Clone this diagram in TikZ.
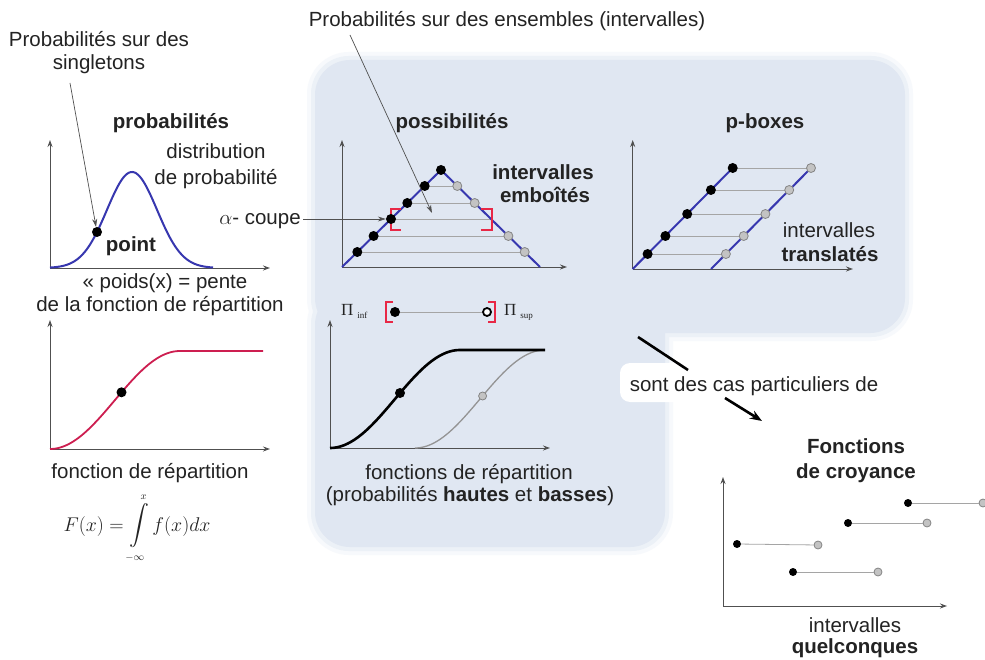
\documentclass[tikz,border=0pt]{standalone}
\usepackage{exscale}
\usepackage{graphicx}
\usepackage{fontspec}
\setmainfont{Liberation Sans}
\newfontfamily\tms{Liberation Serif}
\usetikzlibrary{arrows.meta}

\definecolor{bgblue}{RGB}{224,231,242}
\definecolor{txt}{RGB}{35,35,35}
\definecolor{cblue}{RGB}{55,55,175}
\definecolor{cred}{RGB}{205,30,80}
\definecolor{bred}{RGB}{232,40,70}
\definecolor{lgray}{RGB}{165,165,165}
\definecolor{dgray}{RGB}{80,80,80}
\definecolor{gdotc}{RGB}{195,195,195}

\tikzset{
  lbl/.style={font=\fontsize{20.5}{24}\selectfont, text=txt, inner sep=0pt, anchor=base},
  blbl/.style={lbl, font=\fontsize{20.5}{24}\selectfont\bfseries},
  axline/.style={draw=dgray, line width=0.9pt, -{Stealth[length=7pt,width=5pt]}},
  leader/.style={draw=dgray, line width=0.7pt, -{Stealth[length=8pt,width=5pt]}},
  bdot/.style={circle, fill=black, inner sep=0pt, minimum size=10pt},
  gdot/.style={circle, fill=gdotc, draw=lgray!80!black, line width=0.8pt, inner sep=0pt, minimum size=9pt},
  sbdot/.style={circle, fill=black, inner sep=0pt, minimum size=8pt},
  sgdot/.style={circle, fill=gdotc, draw=lgray!80!black, line width=0.8pt, inner sep=0pt, minimum size=8pt},
  hline/.style={draw=lgray, line width=0.8pt},
  bluecurve/.style={draw=cblue, line width=2pt},
  brk/.style={draw=bred, line width=2pt},
  thickarrow/.style={draw=black, line width=2.6pt},
}

\begin{document}
\begin{tikzpicture}[x=1pt,y=-1pt]
\useasboundingbox (0,0) rectangle (985,660);
\fill[white] (0,0) rectangle (985,660);

% ---------- background (soft edged) ----------
\fill[bgblue!25, rounded corners=42pt] (307,52) rectangle (913,341);
\fill[bgblue!25, rounded corners=42pt] (307,282) rectangle (673,555);
\fill[bgblue!60, rounded corners=38pt] (311,56) rectangle (909,337);
\fill[bgblue!60, rounded corners=38pt] (311,286) rectangle (669,551);
\fill[bgblue, rounded corners=35pt] (315,60) rectangle (905,333);
\fill[bgblue, rounded corners=35pt] (315,290) rectangle (665,547);
\fill[white, rounded corners=10pt] (620,363) rectangle (888,402);

% ---------- plot 1 : density ----------
\draw[axline] (50,268) -- (50,140);
\draw[axline] (50,268) -- (270,268);
\draw[line width=2pt, cblue] plot[domain=50:213, samples=90, smooth] (\x,{268-96*exp(-((\x-132)^2)/1250)});
\node[bdot] (p1) at (97,232) {};

% ---------- plot 2 : cdf ----------
\draw[axline] (50,449) -- (50,320);
\draw[axline] (50,449) -- (270,449);
\draw[cred, line width=1.8pt] plot[domain=0:1, samples=60, smooth] ({50+130*\x},{449-98*(1-cos(180*\x))/2}) -- (263,351);
\node[bdot] (p2) at (121.5,392.3) {};

% ---------- plot 3 : possibility ----------
\draw[axline] (342,267) -- (342,140);
\draw[axline] (342,267) -- (567,267);
\draw[hline] (424.7,186) -- (457.3,186);
\draw[hline] (407.3,203) -- (474.7,203);
\draw[hline] (391,219) -- (491,219);
\draw[hline] (373.6,236) -- (508.4,236);
\draw[hline] (357.3,252) -- (524.7,252);
\draw[bluecurve] (342,267) -- (441,170) -- (540,267);
\draw[brk] (401,209) -- (391,209) -- (391,230) -- (401,230);
\draw[brk] (481,209) -- (492,209) -- (492,230) -- (481,230);
\node[bdot] (t0) at (441,170) {};
\node[bdot] (t1) at (424.7,186) {};
\node[bdot] (t2) at (407.3,203) {};
\node[bdot] (t3) at (391,219) {};
\node[bdot] (t4) at (373.6,236) {};
\node[bdot] (t5) at (357.3,252) {};
\node[gdot] (u1) at (457.3,186) {};
\node[gdot] (u2) at (474.7,203) {};
\node[gdot] (u4) at (508.4,236) {};
\node[gdot] (u5) at (524.7,252) {};

% ---------- plot 4 : p-boxes ----------
\draw[axline] (632.7,269) -- (632.7,140);
\draw[axline] (632.7,269) -- (853,269);
\draw[hline] (732.7,168) -- (811,168);
\draw[hline] (710.9,190) -- (789.2,190);
\draw[hline] (687.2,214) -- (765.4,214);
\draw[hline] (665.4,236) -- (743.7,236);
\draw[hline] (647.6,254) -- (725.9,254);
\draw[bluecurve] (632.7,269) -- (732.7,168);
\draw[bluecurve] (711,269) -- (811,168);
\node[bdot] (a1) at (732.7,168) {};
\node[bdot] (a2) at (710.9,190) {};
\node[bdot] (a3) at (687.2,214) {};
\node[bdot] (a4) at (665.4,236) {};
\node[bdot] (a5) at (647.6,254) {};
\node[gdot] (b1) at (811,168) {};
\node[gdot] (b2) at (789.2,190) {};
\node[gdot] (b3) at (765.4,214) {};
\node[gdot] (b4) at (743.7,236) {};
\node[gdot] (b5) at (725.9,254) {};

% ---------- Pi row ----------
\node[lbl, anchor=base west, font=\tms\fontsize{17}{20}\selectfont] (piinf) at (341,316) {Π\hspace{4pt}\raisebox{-3pt}{\fontsize{9}{10}\selectfont inf}};
\node[lbl, anchor=base west, font=\tms\fontsize{17}{20}\selectfont] (pisup) at (504,316) {Π\hspace{4pt}\raisebox{-3pt}{\fontsize{9}{10}\selectfont sup}};
\draw[brk] (393,302) -- (386,302) -- (386,322) -- (393,322);
\draw[brk] (488,302) -- (495,302) -- (495,322) -- (488,322);
\node[bdot] (pl) at (395,312) {};
\node[circle, draw=black, line width=1.8pt, fill=white, inner sep=0pt, minimum size=8pt] (pr) at (487,312) {};
\draw[hline] (pl) -- (pr);

% ---------- plot 5 : lower / upper cdf ----------
\draw[axline] (330,448) -- (330,320);
\draw[axline] (330,448) -- (550,448);
\draw[lgray!90!black, line width=1.3pt] plot[domain=0:1, samples=60, smooth] ({415+130*\x},{448-98*(1-cos(180*\x))/2});
\draw[black, line width=2.6pt] plot[domain=0:1, samples=60, smooth] ({330+130*\x},{448-98*(1-cos(180*\x))/2}) -- (545,350);
\node[bdot] (c1) at (400,393) {};
\node[sgdot] (c2) at (482.6,396) {};

% ---------- plot 6 : belief functions ----------
\draw[axline] (723,606) -- (723,477);
\draw[axline] (723,606) -- (947,606);
\node[sbdot] (d1) at (908,503) {};
\node[sgdot] (e1) at (983,503) {};
\node[sbdot] (d2) at (848,523) {};
\node[sgdot] (e2) at (927,523) {};
\node[sbdot] (d3) at (737,544) {};
\node[sgdot] (e3) at (818,545) {};
\node[sbdot] (d4) at (793,572) {};
\node[sgdot] (e4) at (878,572) {};
\draw[hline] (d1) -- (e1);
\draw[hline] (d2) -- (e2);
\draw[hline] (d3) -- (e3);
\draw[hline] (d4) -- (e4);

% ---------- texts ----------
\node[lbl] (s1) at (99,47) {Probabilités sur des};
\node[lbl] (s2) at (99,70) {singletons};
\node[blbl] (prob) at (171,129) {probabilités};
\node[lbl] (dist1) at (216,159) {distribution};
\node[lbl] (dist2) at (216,185) {de probabilité};
\node[blbl] (pt) at (131,252) {point};
\node[lbl] (alpha) at (260,225) {$\alpha$- coupe};
\node[lbl] (poids) at (165,289) {« poids(x) = pente};
\node[lbl] (pente) at (160,312) {de la fonction de répartition};
\node[lbl] (frep) at (150,478) {fonction de répartition};
\node[lbl, font=\fontsize{18}{22}\selectfont] (form) at (137,531) {\scalebox{1.15}{$\displaystyle F(x)=\int\limits_{\scriptscriptstyle-\infty}^{\scriptscriptstyle x} f(x)dx$}};

\node[lbl] (ens) at (507,27) {Probabilités sur des ensembles (intervalles)};
\node[blbl] (poss) at (452,129) {possibilités};
\node[blbl] (emb1) at (543,180) {intervalles};
\node[blbl] (emb2) at (545,203) {emboîtés};
\node[blbl] (pbox) at (765,129) {p-boxes};
\node[lbl] (tr1) at (829,238) {intervalles};
\node[blbl] (tr2) at (830,262) {translatés};
\node[lbl] (fr1) at (469,479) {fonctions de répartition};
\node[lbl] (fr2) at (470,501) {(probabilités \textbf{hautes} et \textbf{basses})};
\node[lbl] (cas) at (754,391) {sont des cas particuliers de};
\node[blbl] (fc1) at (856,453) {Fonctions};
\node[blbl] (fc2) at (856,478) {de croyance};
\node[lbl] (q1) at (855,632) {intervalles};
\node[blbl] (q2) at (855,653) {quelconques};

% ---------- connectors ----------
\coordinate (l1s) at (70,83);
\draw[leader] (l1s) -- (p1);
\coordinate (l2s) at (350,35);
\coordinate (l2e) at (432,213);
\draw[leader] (l2s) -- (l2e);
\coordinate (al1) at (303,219);
\draw[leader] (al1) -- (t3);
\coordinate (k1) at (638,337);
\coordinate (k2) at (688,370);
\draw[thickarrow] (k1) -- (k2);
\coordinate (k3) at (725,398);
\coordinate (k4) at (762,421);
\draw[thickarrow, -{Stealth[length=12pt,width=9pt]}] (k3) -- (k4);
\end{tikzpicture}
\end{document}
